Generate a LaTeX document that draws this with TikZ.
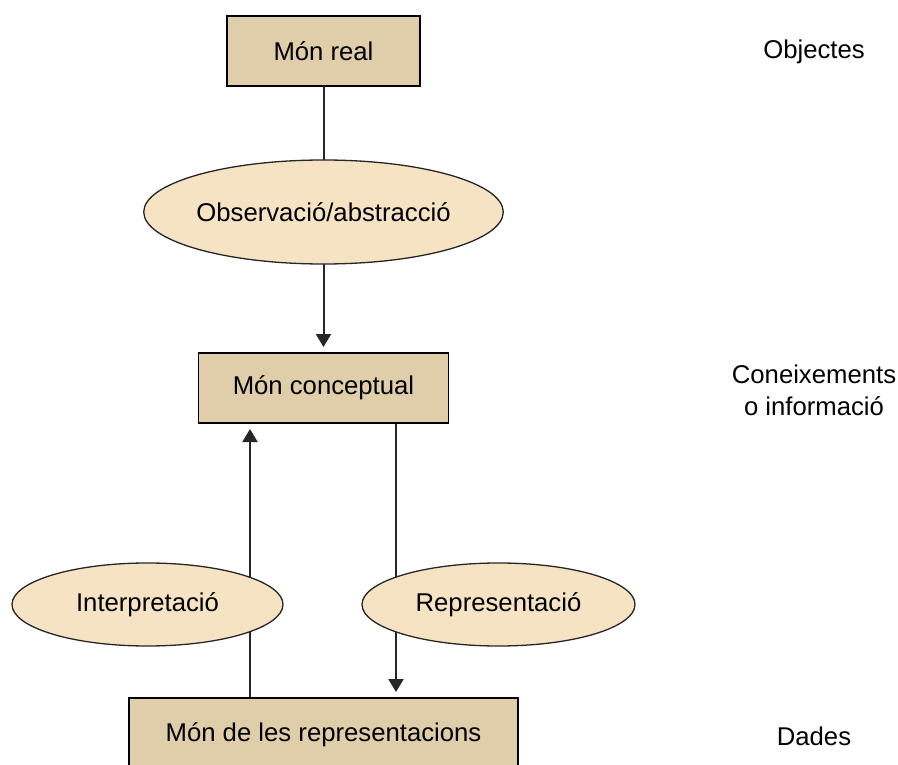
\documentclass[tikz,border=0pt]{standalone}
\usepackage{fontspec}
\setmainfont{Liberation Sans}
\usepackage{xcolor}
\usetikzlibrary{arrows.meta,positioning,shapes.geometric,backgrounds}

\definecolor{boxtan}{RGB}{224,205,170}
\definecolor{ovalcream}{RGB}{245,227,195}

\begin{document}
\begin{tikzpicture}[
    x=1pt, y=1pt,
    every node/.style={font=\fontsize{25.7}{32}\selectfont, text=black, outer sep=0pt},
    world/.style={draw=black, line width=1.8pt, fill=boxtan, minimum height=70pt},
    process/.style={ellipse, draw=black!85, line width=1.3pt, fill=ovalcream, inner sep=0pt},
    level/.style={align=center},
    link/.style={line width=2pt, draw=black!85},
    flow/.style={link, -{Triangle[length=13pt,width=15pt]}, shorten >=6pt}
]
\useasboundingbox (0,0) rectangle (898,-765);

% Worlds
\node[world, minimum width=193pt] (real) at (323.5,-51) {Món real};
\node[process, minimum width=352pt, minimum height=104pt, below=74pt of real] (observ) {Observació/abstracció};
\node[world, minimum width=250pt, below=89pt of observ] (concept) {Món conceptual};
\node[world, minimum width=389pt, minimum height=74pt, below=275pt of concept] (repres) {Món de les representacions};

% Processes between the worlds
\node[process, minimum width=271pt, minimum height=83pt] (interp) at (147.5,-604.5) {Interpretació};
\node[process, minimum width=273pt, minimum height=83pt] (represent) at (498.5,-604.5) {Representació};

% Levels
\node[level] (objects) at (814,-52) {Objectes};
\node[level] (knowledge) at (814,-390) {Coneixements\\o informació};
\node[level] (data) at (814,-736) {Dades};

% Connections
\draw[link] (real) -- (observ);
\draw[flow] (observ) -- (concept);
\begin{scope}[on background layer]
\draw[flow] ([xshift=-73.5pt]repres.north) -- ([xshift=-73.5pt]concept.south);
\draw[flow] ([xshift=72.5pt]concept.south) -- ([xshift=72.5pt]repres.north);
\end{scope}

\end{tikzpicture}
\end{document}
